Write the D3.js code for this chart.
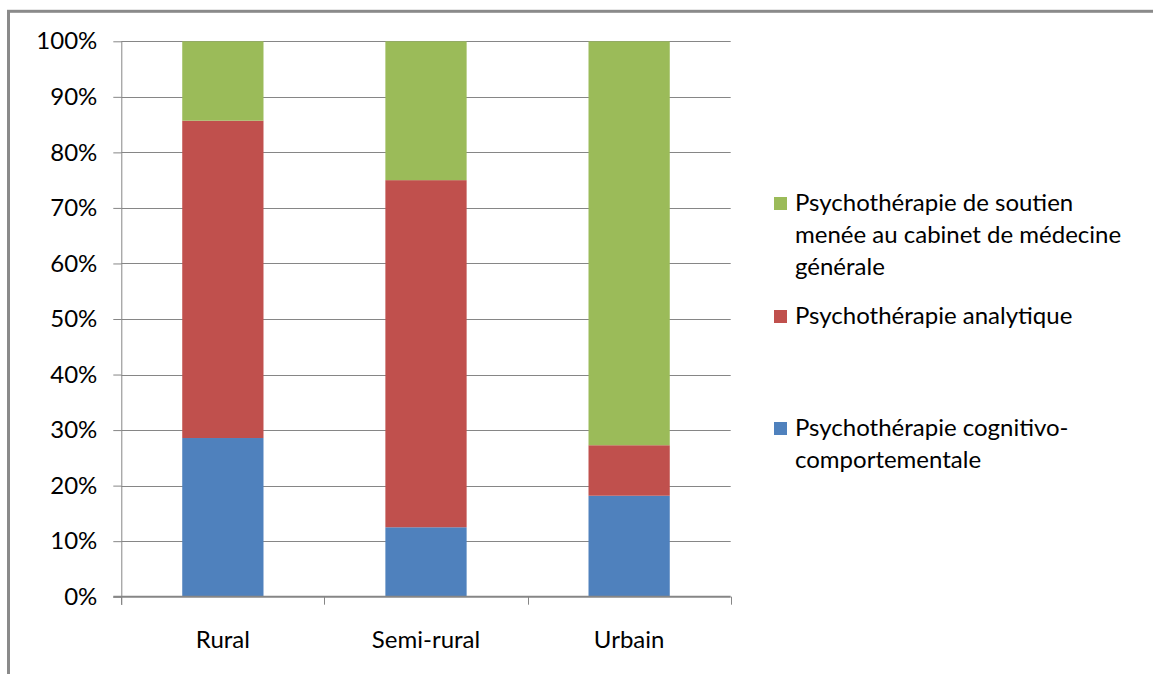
<!DOCTYPE html>
<html>
<head>
<meta charset="utf-8">
<script src="https://cdn.jsdelivr.net/npm/d3@7"></script>
<style>
  html, body { margin: 0; padding: 0; background: #fff; }
  svg { display: block; }
  text { font-family: Lato, "Open Sans", sans-serif; fill: #000; }
</style>
</head>
<body>
<svg id="chart" width="1153" height="674"></svg>
<script>
// ---- Data ----
const categories = ["Rural", "Semi-rural", "Urbain"];
const seriesKeys = ["cognitivo", "analytique", "soutien"];
const cognitivo = [28.57, 12.5, 18.18];
const analytique = [57.14, 62.5, 9.09];
const soutien = [14.29, 25.0, 72.73];
const yTickValues = [0, 10, 20, 30, 40, 50, 60, 70, 80, 90, 100];
const legendLabels = {
  soutien: ["Psychothérapie de soutien", "menée au cabinet de médecine", "générale"],
  analytique: ["Psychothérapie analytique"],
  cognitivo: ["Psychothérapie cognitivo-", "comportementale"]
};
const colors = { cognitivo: "#4F81BD", analytique: "#C0504D", soutien: "#9BBB59" };

// ---- Build table ----
const table = categories.map((c, i) => ({
  category: c, cognitivo: cognitivo[i], analytique: analytique[i], soutien: soutien[i]
}));

const svg = d3.select("#chart");
const pLeft = 121.3, pRight = 730.7, pTop = 41.3, pBottom = 596.7;
const gridColor = "#868686";
const fontSize = "24px";

// outer chart border (cut at right/bottom)
svg.append("rect").attr("x", 8.5).attr("y", 11.3).attr("width", 1300).attr("height", 1000)
  .attr("fill", "none").attr("stroke", "#8a8a8a").attr("stroke-width", 3);

const x = d3.scaleBand().domain(categories).range([pLeft, pRight]).paddingInner(0.6).paddingOuter(0.3);
const y = d3.scaleLinear().domain([0, 100]).range([pBottom, pTop]);

// gridlines
svg.append("g").selectAll("line").data(yTickValues.filter(v => v > 0)).join("line")
  .attr("x1", pLeft).attr("x2", pRight)
  .attr("y1", d => Math.round(y(d)) + 0.5).attr("y2", d => Math.round(y(d)) + 0.5)
  .attr("stroke", gridColor).attr("stroke-width", 1);

// stacked bars
const stack = d3.stack().keys(seriesKeys)(table);
svg.append("g").selectAll("g").data(stack).join("g")
  .attr("fill", d => colors[d.key])
  .selectAll("rect").data(d => d).join("rect")
  .attr("x", d => x(d.data.category))
  .attr("width", x.bandwidth())
  .attr("y", d => y(d[1]))
  .attr("height", d => y(d[0]) - y(d[1]));

// y axis
const yAxis = d3.axisLeft(y).tickValues(yTickValues).tickFormat(d => d + "%").tickSize(8).tickPadding(16);
const gy = svg.append("g").attr("transform", `translate(${pLeft},0)`).call(yAxis);
gy.select(".domain").attr("stroke", gridColor).attr("d", `M0.5,${pTop}V605`);
gy.selectAll(".tick line").attr("stroke", gridColor);
gy.selectAll(".tick text").style("font-size", fontSize).attr("fill", "#000");

// x axis
const xAxis = d3.axisBottom(x).tickSize(0).tickPadding(34);
const gx = svg.append("g").attr("transform", `translate(0,${pBottom})`).call(xAxis);
gx.select(".domain").attr("stroke", gridColor).attr("stroke-width", 2).attr("d", `M${pLeft - 8},0H${pRight}`);
gx.selectAll(".tick text").style("font-size", fontSize).attr("fill", "#000");
// category separator ticks
const sepX = [pLeft, ...categories.map(c => x(c) + x.bandwidth() / 2 + x.step() / 2)];
gx.selectAll(".sep").data(sepX).join("line").attr("class", "sep")
  .attr("x1", d => Math.round(d) + 0.5).attr("x2", d => Math.round(d) + 0.5)
  .attr("y1", 0).attr("y2", 8).attr("stroke", gridColor);

// legend
const legendItems = [
  { key: "soutien", y: 197 },
  { key: "analytique", y: 310 },
  { key: "cognitivo", y: 422 }
];
const lg = svg.append("g");
legendItems.forEach(item => {
  lg.append("rect").attr("x", 774).attr("y", item.y).attr("width", 13).attr("height", 13)
    .attr("fill", colors[item.key]);
  const t = lg.append("text").attr("x", 795).attr("y", item.y + 13.5).style("font-size", fontSize);
  legendLabels[item.key].forEach((line, i) => {
    t.append("tspan").attr("x", 795).attr("dy", i === 0 ? 0 : 32).text(line);
  });
});
</script>
</body>
</html>
